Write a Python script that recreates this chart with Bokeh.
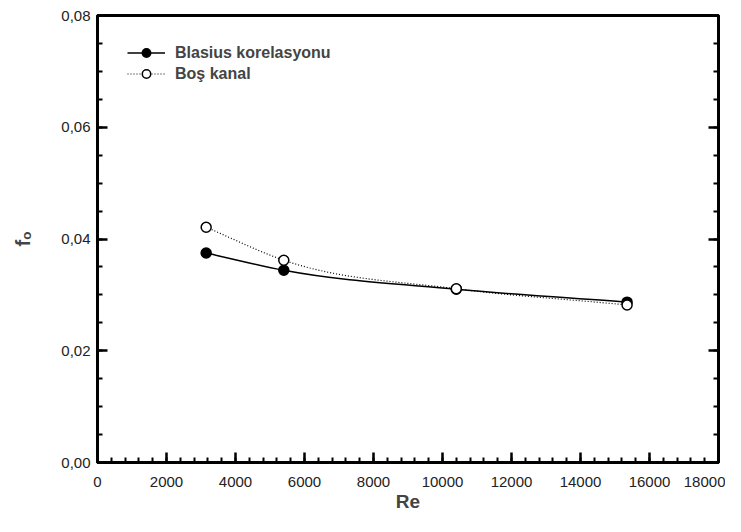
from bokeh.plotting import figure
from bokeh.models import (Range1d, LinearAxis, FixedTicker, CustomJSTickFormatter,
                          Legend, LegendItem, ColumnDataSource)
from bokeh.embed import file_html
from bokeh.resources import INLINE

# ---- data ----
re_values = [3150, 5400, 10400, 15350]
blasius = [0.0375, 0.0344, 0.0310, 0.0287]
bos_kanal = [0.0421, 0.0362, 0.0311, 0.0282]

x_ticks = [0, 2000, 4000, 6000, 8000, 10000, 12000, 14000, 16000, 18000]
y_ticks = [0.00, 0.02, 0.04, 0.06, 0.08]
x_minor = [v for v in range(0, 18001, 400)]
y_minor = [i * 0.005 for i in range(0, 17)]

FONT = "Liberation Sans"


def bezier_segments(xs, ys):
    """Smooth Hermite curve through the data points, as cubic Bezier segments."""
    n = len(xs)
    slopes = []
    for i in range(n):
        if i == 0:
            m = (ys[1] - ys[0]) / (xs[1] - xs[0])
        elif i == n - 1:
            m = (ys[-1] - ys[-2]) / (xs[-1] - xs[-2])
        else:
            d0 = (ys[i] - ys[i - 1]) / (xs[i] - xs[i - 1])
            d1 = (ys[i + 1] - ys[i]) / (xs[i + 1] - xs[i])
            w0 = xs[i + 1] - xs[i]
            w1 = xs[i] - xs[i - 1]
            m = (w0 * d0 + w1 * d1) / (w0 + w1)
        slopes.append(m)
    d = dict(x0=[], y0=[], x1=[], y1=[], cx0=[], cy0=[], cx1=[], cy1=[])
    for i in range(n - 1):
        h = xs[i + 1] - xs[i]
        d["x0"].append(xs[i]); d["y0"].append(ys[i])
        d["x1"].append(xs[i + 1]); d["y1"].append(ys[i + 1])
        d["cx0"].append(xs[i] + h / 3); d["cy0"].append(ys[i] + slopes[i] * h / 3)
        d["cx1"].append(xs[i + 1] - h / 3); d["cy1"].append(ys[i + 1] - slopes[i + 1] * h / 3)
    return ColumnDataSource(d)


p = figure(width=725, height=516, output_backend="svg", toolbar_location=None,
           x_range=Range1d(0, 18000), y_range=Range1d(0, 0.08),
           min_border_left=97, min_border_right=7, min_border_top=15, min_border_bottom=54)
p.xgrid.visible = False
p.ygrid.visible = False
p.background_fill_color = "white"
p.border_fill_color = "white"
p.outline_line_color = "black"
p.outline_line_width = 3

xfmt = CustomJSTickFormatter(code="return tick.toFixed(0);")
yfmt = CustomJSTickFormatter(code="return tick.toFixed(2).replace('.', ',');")


def style_axis(ax):
    ax.axis_line_width = 3
    ax.axis_line_color = "black"
    ax.major_tick_in = 10
    ax.major_tick_out = 0
    ax.minor_tick_in = 5
    ax.minor_tick_out = 0
    ax.major_tick_line_width = 2.5
    ax.minor_tick_line_width = 2
    ax.major_label_text_font = FONT
    ax.major_label_text_font_size = "15px"
    ax.major_label_text_color = "#222222"
    ax.axis_label_text_font = FONT
    ax.axis_label_text_font_style = "bold"
    ax.axis_label_text_font_size = "19px"


xa = p.xaxis[0]
xa.ticker = FixedTicker(ticks=x_ticks, minor_ticks=x_minor)
xa.formatter = xfmt
xa.axis_label = "Re"
style_axis(xa)
xa.major_label_standoff = 14
xa.axis_label_standoff = 1

ya = p.yaxis[0]
ya.ticker = FixedTicker(ticks=y_ticks, minor_ticks=y_minor)
ya.formatter = yfmt
ya.axis_label = "fₒ"
style_axis(ya)
ya.axis_label_text_font_size = "20px"
ya.major_label_standoff = 7
ya.axis_label_standoff = 24

ra = LinearAxis(ticker=FixedTicker(ticks=y_ticks, minor_ticks=y_minor))
style_axis(ra)
ra.major_label_text_color = None
ra.major_label_standoff = 0
p.add_layout(ra, "right")

# curves
b_src = bezier_segments(re_values, blasius)
o_src = bezier_segments(re_values, bos_kanal)
b_curve = p.bezier(x0="x0", y0="y0", x1="x1", y1="y1", cx0="cx0", cy0="cy0",
                   cx1="cx1", cy1="cy1", source=b_src, line_color="black", line_width=1.5)
b_pts = p.scatter(re_values, blasius, size=10, marker="circle",
                  fill_color="black", line_color="black", line_width=1.5)
o_curve = p.bezier(x0="x0", y0="y0", x1="x1", y1="y1", cx0="cx0", cy0="cy0",
                   cx1="cx1", cy1="cy1", source=o_src, line_color="black",
                   line_width=1.2, line_dash="1 2")
o_pts = p.scatter(re_values, bos_kanal, size=10, marker="circle",
                  fill_color="white", line_color="black", line_width=1.5)

legend = Legend(items=[
    LegendItem(label="Blasius korelasyonu", renderers=[b_curve, b_pts]),
    LegendItem(label="Boş kanal", renderers=[o_curve, o_pts]),
], location=(30, 378))
legend.border_line_color = None
legend.background_fill_alpha = 0
legend.padding = 0
legend.margin = 0
legend.spacing = 0
legend.label_height = 21
legend.glyph_height = 21
legend.glyph_width = 38
legend.label_standoff = 10
legend.label_text_font = FONT
legend.label_text_font_style = "bold"
legend.label_text_font_size = "16px"
p.add_layout(legend)

open("out.html", "w").write(file_html(p, INLINE))
